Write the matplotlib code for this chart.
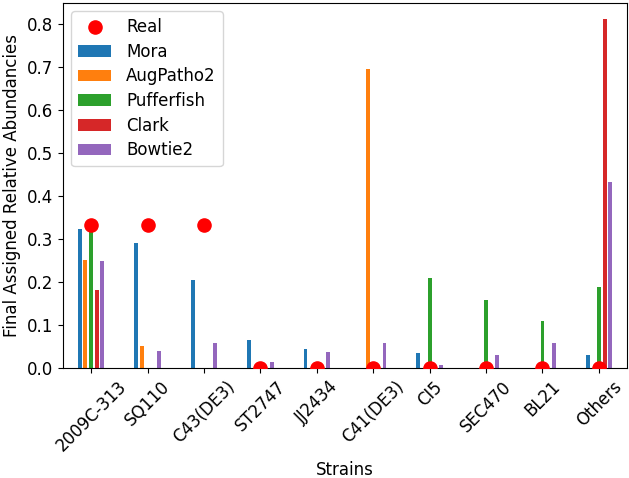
import matplotlib
matplotlib.use("Agg")
import matplotlib.pyplot as plt
import numpy as np

strains = ["2009C-313", "SQ110", "C43(DE3)", "ST2747", "JJ2434", "C41(DE3)", "CI5", "SEC470", "BL21", "Others"]
real = [0.333, 0.333, 0.333, 0, 0, 0, 0, 0, 0, 0]
mora = [0.324, 0.291, 0.205, 0.065, 0.044, 0, 0.035, 0, 0, 0.030]
augpatho2 = [0.252, 0.051, 0, 0, 0, 0.695, 0, 0, 0, 0]
pufferfish = [0.326, 0, 0, 0, 0, 0, 0.210, 0.158, 0.110, 0.189]
clark = [0.182, 0, 0, 0, 0, 0, 0, 0, 0, 0.812]
bowtie2 = [0.249, 0.040, 0.058, 0.014, 0.038, 0.059, 0.007, 0.030, 0.058, 0.434]

series = [("Mora", mora, "#1f77b4"), ("AugPatho2", augpatho2, "#ff7f0e"),
          ("Pufferfish", pufferfish, "#2ca02c"), ("Clark", clark, "#d62728"),
          ("Bowtie2", bowtie2, "#9467bd")]

plt.rcParams['font.size'] = 12
fig = plt.figure(figsize=(6.29, 4.78), dpi=100)
ax = fig.add_axes([0.100, 0.230, 0.897, 0.764])

x = np.arange(len(strains))
width = 0.07
offsets = [-0.2, -0.1, 0.0, 0.1, 0.2]
ax.scatter(x, real, s=90, color="red", zorder=3, label="Real")
for (name, vals, col), off in zip(series, offsets):
    ax.bar(x + off, vals, width=width, color=col, label=name, zorder=2)

ax.set_xlim(-0.5, 9.5)
ax.set_ylim(0, 0.85)
ax.set_yticks(np.arange(0, 0.81, 0.1))
ax.set_xticks(x)
ax.set_xticklabels(strains, rotation=45)
ax.set_xlabel("Strains")
ax.set_ylabel("Final Assigned Relative Abundancies")
ax.legend(loc="upper left", labelspacing=0.4, handletextpad=0.9)
fig.savefig("out.png", dpi=100)
